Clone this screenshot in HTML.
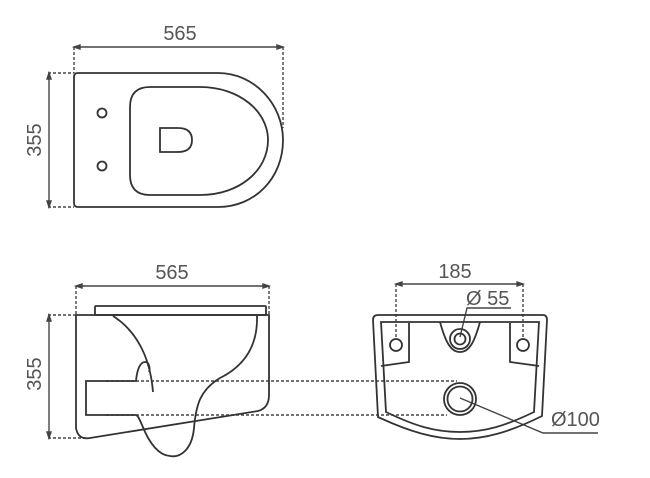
<!DOCTYPE html>
<html><head><style>body{margin:0;background:#fff}svg{display:block}</style></head><body>
<svg width="650" height="478" viewBox="0 0 650 478" xmlns="http://www.w3.org/2000/svg" font-family="Liberation Sans, sans-serif" fill="none" stroke="#333" stroke-width="1.8">
<!-- TOP VIEW -->
<g stroke-width="1.4" stroke="#444">
<path d="M74,47 V73 M283,47 V128 M48,73 H74 M48,207 H74" stroke-dasharray="3,2"/>
<path d="M74,47 H283 M49,73 V207"/>
<path d="M74,47 l6,-2 v4 z M283,47 l-6,-2 v4 z M49,73 l-2,6 h4 z M49,207 l-2,-6 h4 z" fill="#444"/>
</g>
<text x="180" y="40" font-size="20" fill="#555" stroke="none" text-anchor="middle">565</text>
<text x="0" y="0" font-size="20" fill="#555" stroke="none" text-anchor="middle" transform="translate(41,140) rotate(-90)">355</text>
<path d="M78,73 H218 C255,73 283,105 283,140 C283,178 255,207 218,207 H78 Q74,207 74,203 V77 Q74,73 78,73 Z"/>
<path d="M150,87 H200 C240,87 268,112 268,140 C268,170 240,195 200,195 H150 Q130,195 130,175 V107 Q130,87 150,87 Z"/>
<circle cx="102" cy="113" r="4.5"/><circle cx="102" cy="166" r="4.5"/>
<path d="M160,128 H178 Q192,128 192,140 Q192,152 178,152 H160 Z"/>
<!-- SIDE VIEW -->
<g stroke-width="1.4" stroke="#444">
<path d="M76,286 V315 M269,286 V315 M48,315 H76 M48,438 H86 M106,381 H457 M106,415 H447" stroke-dasharray="3,2"/>
<path d="M76,286 H269 M49,315 V438"/>
<path d="M76,286 l6,-2 v4 z M269,286 l-6,-2 v4 z M49,315 l-2,6 h4 z M49,438 l-2,-6 h4 z" fill="#444"/>
</g>
<text x="172" y="279" font-size="20" fill="#555" stroke="none" text-anchor="middle">565</text>
<text x="0" y="0" font-size="20" fill="#555" stroke="none" text-anchor="middle" transform="translate(41,374) rotate(-90)">355</text>
<rect x="95" y="306" width="171" height="9" rx="1"/>
<path d="M76,315 H269 V395 Q269,408 258,411 L90,438 Q78,440 76,428 Z"/>
<path d="M113,316 C135,330 150,355 153,392"/>
<path d="M257,316 C258,350 240,368 220,378 C200,390 196,405 194,428 C192,450 180,458 170,456 C155,455 146,435 142,425 C139,418 138,416 136,415 H86 V381 H136 C137,370 140,362 145,362 C150,362 150,370 149,372"/>
<!-- FRONT VIEW -->
<g stroke-width="1.4" stroke="#444">
<path d="M396,284 V340 M523,284 V340" stroke-dasharray="3,2"/>
<path d="M396,284 H523"/>
<path d="M396,284 l6,-2 v4 z M523,284 l-6,-2 v4 z" fill="#444"/>
<path d="M511,308 H467 L460,337 M460,398 L543,433 H598"/>
</g>
<text x="455" y="278" font-size="20" fill="#555" stroke="none" text-anchor="middle">185</text>
<text x="466" y="305" font-size="20" fill="#555" stroke="none">Ø 55</text>
<text x="551" y="426" font-size="20" fill="#555" stroke="none">Ø100</text>
<path d="M378,315 H543 Q547,315 547,320 L542,416 C510,432 485,439 460,439 C435,439 410,432 378,417 L373,320 Q373,315 378,315 Z"/>
<path d="M381,322 H539 L534,412 C505,426 485,432 460,432 C435,432 415,426 386,412 Z"/>
<path d="M409,323 V362 L381,366 M510,323 V362 L539,366"/>
<path d="M440,322 C445,340 450,352 460,352 C470,352 475,340 480,322"/>
<circle cx="396" cy="345" r="6"/><circle cx="523" cy="345" r="6"/>
<circle cx="460" cy="339" r="10"/><circle cx="460" cy="339" r="5.5"/>
<circle cx="460" cy="399" r="16"/><circle cx="460" cy="399" r="12.5"/>
</svg>
</body></html>
